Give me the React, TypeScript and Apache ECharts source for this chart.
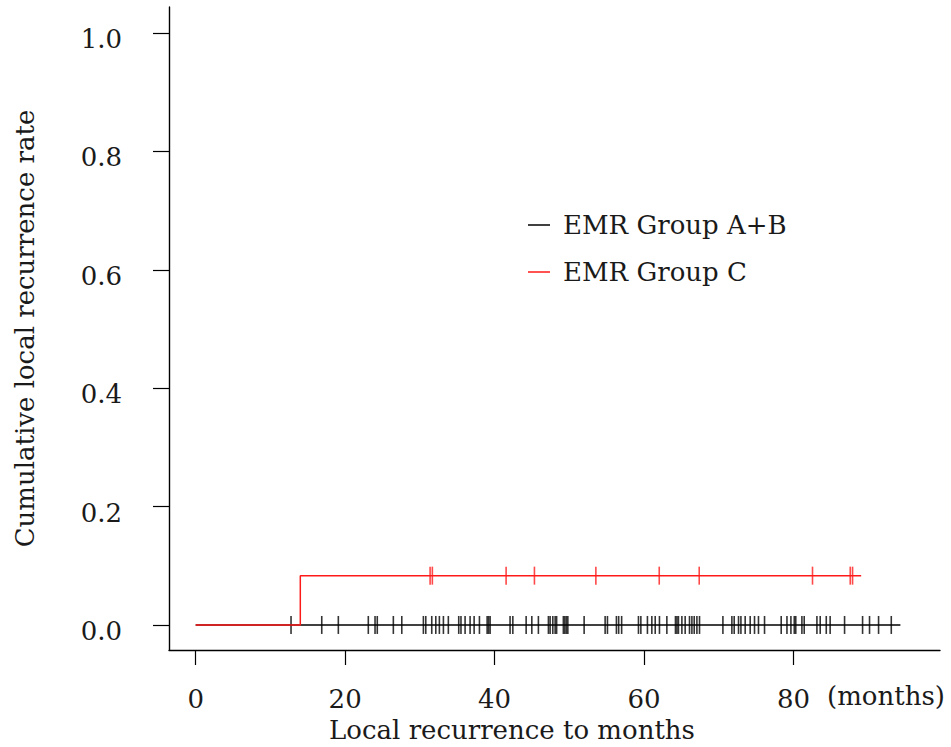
import React, { useEffect, useRef } from "react";
import * as echarts from "echarts";

// Group names
const groupNames = ["EMR Group A+B", "EMR Group C"];

// Censoring times (months) for EMR Group A+B (no events, rate stays at 0)
const censorAB = [
  12.76, 16.87, 19.09, 23.1, 24.0, 24.3, 26.45, 27.58, 30.47, 30.79, 31.59, 32.13, 32.61,
  33.15, 33.81, 35.2, 35.5, 36.05, 36.72, 37.26, 37.97, 39.0, 39.2, 39.4, 42.07, 42.44,
  44.22, 44.98, 45.86, 47.2, 47.43, 47.79, 48.1, 48.3, 49.2, 49.4, 49.6, 49.8, 51.98,
  54.79, 55.1, 56.3, 56.6, 57.0, 59.25, 59.57, 60.45, 61.04, 61.49, 62.06, 63.05, 64.2,
  64.4, 64.6, 65.06, 65.5, 66.08, 66.4, 66.71, 67.07, 67.42, 70.55, 71.75, 72.06, 72.64,
  72.96, 73.53, 74.2, 74.78, 75.31, 76.12, 78.35, 79.12, 79.65, 80.1, 80.3, 81.12, 81.43,
  83.13, 83.57, 84.38, 84.9, 86.83, 89.24, 90.17, 91.38, 93.08,
];
// Step curve for Group A+B: [time, cumulative rate]
const curveAB: [number, number][] = [
  [0, 0],
  [94.3, 0],
];

// Censoring times (months) for EMR Group C
const censorC = [31.37, 31.67, 41.54, 45.33, 53.55, 62.03, 67.38, 82.54, 87.59, 87.9];
// Step curve for Group C: one recurrence at 14 months
const curveC: [number, number][] = [
  [0, 0],
  [14.0, 0],
  [14.0, 0.0833],
  [89.05, 0.0833],
];

// Axis ticks
const yTicks = [0, 0.2, 0.4, 0.6, 0.8, 1.0];
const xTicks = [0, 20, 40, 60, 80];

const FONT = "DejaVu Serif";
const TXT = "#1a1a1a";
const FS = 26;

function levelAt(curve: [number, number][], t: number): number {
  let v = 0;
  for (const [x, y] of curve) if (x <= t) v = y;
  return v;
}

export default function App() {
  const ref = useRef<HTMLDivElement>(null);

  useEffect(() => {
    document.body.style.margin = "0";
    if (!ref.current) return;
    const chart = echarts.init(ref.current, null, { renderer: "svg" });
    const option: any = {
      animation: false,
      backgroundColor: "#ffffff",
      textStyle: { fontFamily: FONT },
      grid: { left: 169, right: 11, top: 7, bottom: 97, containLabel: false },
      legend: {
        data: groupNames,
        orient: "vertical",
        left: 528,
        top: 211,
        padding: 0,
        icon: "rect",
        itemWidth: 22,
        itemHeight: 1.5,
        itemGap: 19,
        textStyle: { fontFamily: FONT, fontSize: FS, color: TXT, lineHeight: 28, padding: [0, 0, 0, 8] },
        selectedMode: false,
      },
      xAxis: {
        type: "value",
        min: -3.57,
        max: 99.6,
        splitLine: { show: false },
        axisLine: { show: true, onZero: false, lineStyle: { color: "#000", width: 1.4 } },
        axisTick: { show: true, customValues: xTicks, length: 15, lineStyle: { color: "#000", width: 1.2 } },
        axisLabel: {
          customValues: xTicks,
          margin: 36,
          fontSize: FS,
          color: TXT,
          fontFamily: FONT,
          formatter: (v: number) => String(v),
        },
      },
      yAxis: {
        type: "value",
        min: -0.0423,
        max: 1.044,
        name: "Cumulative local recurrence rate",
        nameLocation: "middle",
        nameGap: 131,
        nameTextStyle: { fontSize: FS, color: TXT, fontFamily: FONT },
        splitLine: { show: false },
        axisLine: { show: true, onZero: false, lineStyle: { color: "#000", width: 1.4 } },
        axisTick: { show: true, customValues: yTicks, length: 16, lineStyle: { color: "#000", width: 1.2 } },
        axisLabel: {
          customValues: yTicks,
          margin: 47,
          fontSize: FS,
          color: TXT,
          fontFamily: FONT,
          verticalAlign: "top",
          lineHeight: 12,
          formatter: (v: number) => v.toFixed(1),
        },
      },
      graphic: [
        {
          type: "text",
          left: 827,
          top: 683,
          style: { text: "(months)", fontSize: FS, fontFamily: FONT, fill: TXT },
        },
        {
          type: "text",
          x: 512,
          y: 730,
          style: {
            text: "Local recurrence to months",
            fontSize: FS,
            fontFamily: FONT,
            fill: TXT,
            align: "center",
            verticalAlign: "middle",
          },
        },
      ],
      series: [
        {
          name: groupNames[0],
          type: "line",
          data: curveAB,
          showSymbol: false,
          symbol: "none",
          lineStyle: { color: "#000000", width: 1.5 },
          itemStyle: { color: "#000000" },
          z: 2,
        },
        {
          name: "censorAB",
          type: "scatter",
          data: censorAB.map((t) => [t, levelAt(curveAB, t)]),
          symbol: "rect",
          symbolSize: [1.6, 18],
          itemStyle: { color: "#000000" },
          z: 3,
        },
        {
          name: groupNames[1],
          type: "line",
          data: curveC,
          showSymbol: false,
          symbol: "none",
          lineStyle: { color: "#ff1a1a", width: 1.5 },
          itemStyle: { color: "#ff1a1a" },
          z: 4,
        },
        {
          name: "censorC",
          type: "scatter",
          data: censorC.map((t) => [t, levelAt(curveC, t)]),
          symbol: "rect",
          symbolSize: [1.6, 18],
          itemStyle: { color: "#ff1a1a" },
          z: 5,
        },
      ],
    };
    chart.setOption(option);
    return () => chart.dispose();
  }, []);

  return (
    <div
      ref={ref}
      style={{ position: "absolute", left: 0, top: 0, width: 951, height: 747, background: "#fff" }}
    />
  );
}
